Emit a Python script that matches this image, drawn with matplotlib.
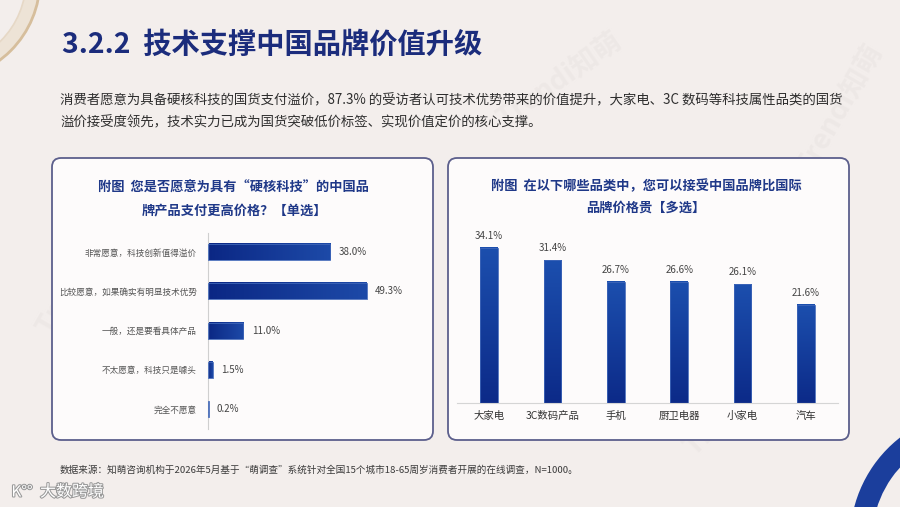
import matplotlib
matplotlib.use('Agg')
import matplotlib.pyplot as plt
import numpy as np
from matplotlib.patches import FancyBboxPatch, Wedge, Arc
from matplotlib.colors import LinearSegmentedColormap
import matplotlib.patheffects as pe

plt.rcParams['font.family'] = ['Noto Sans CJK SC', 'DejaVu Sans']

# ---------------- data ----------------
page_title = '3.2.2  技术支撑中国品牌价值升级'
para_lines = ['消费者愿意为具备硬核科技的国货支付溢价，87.3% 的受访者认可技术优势带来的价值提升，大家电、3C 数码等科技属性品类的国货',
              '溢价接受度领先，技术实力已成为国货突破低价标签、实现价值定价的核心支撑。']
q1_title = '附图  您是否愿意为具有“硬核科技”的中国品\n牌产品支付更高价格？【单选】'
q1_labels = ['非常愿意，科技创新值得溢价', '比较愿意，如果确实有明显技术优势', '一般，还是要看具体产品',
             '不太愿意，科技只是噱头', '完全不愿意']
q1_values = [38.0, 49.3, 11.0, 1.5, 0.2]
q2_title = '附图  在以下哪些品类中，您可以接受中国品牌比国际\n品牌价格贵【多选】'
q2_labels = ['大家电', '3C数码产品', '手机', '厨卫电器', '小家电', '汽车']
q2_values = [34.1, 31.4, 26.7, 26.6, 26.1, 21.6]
source = '数据来源：知萌咨询机构于2026年5月基于“萌调查”系统针对全国15个城市18-65周岁消费者开展的在线调查，N=1000。'
logo = '大数跨境'

W, H = 900, 507
fig = plt.figure(figsize=(9, 5.07), dpi=100)
fig.patch.set_facecolor('#F3EEEC')
bg = fig.add_axes([0, 0, 1, 1])
bg.set_xlim(0, W); bg.set_ylim(H, 0); bg.axis('off')

def fx(x): return x / W
def fy(y): return 1 - y / H

# decorations
bg.add_patch(Wedge((-60, -20), 100, 0, 90, width=14, facecolor='#EDE3D6', edgecolor='none'))
bg.add_patch(Arc((-60, -20), 200, 200, theta1=0, theta2=90, color='#D6BE9C', lw=2.0))
bg.add_patch(Arc((-60, -20), 172, 172, theta1=0, theta2=90, color='#E6D8C6', lw=1.2))
bg.add_patch(Wedge((980, 540), 130, 140, 240, width=22, facecolor='#1B3E9C', edgecolor='none'))

# faint watermarks
for (x, y, r) in [(80, 270, 60), (560, 80, 35), (500, 330, 60), (740, 400, 45), (840, 110, 60)]:
    bg.text(x, y, 'Trendi知萌', fontsize=20, color='#E6E0DE', alpha=0.4, rotation=r,
            ha='center', va='center', fontweight='bold', zorder=0.5)

# title and paragraph
bg.text(62, 45, page_title, fontsize=20.3, fontweight='bold', color='#1B2C7C', va='center', ha='left')
bg.text(60, 100, para_lines[0], fontsize=9.65, color='#2E2E2E', va='center', ha='left')
bg.text(60, 122, para_lines[1], fontsize=9.65, color='#2E2E2E', va='center', ha='left')

# panels
for (x0, x1) in [(52, 433), (448, 849)]:
    bg.add_patch(FancyBboxPatch((x0, 158), x1 - x0, 282, boxstyle='round,pad=0,rounding_size=9',
                                facecolor='#FDFBFB', edgecolor='#5C5F8C', lw=1.3, zorder=1))

bg.text(234, 199, q1_title, fontsize=9.5, fontweight='bold', color='#1F3888', ha='center', va='center',
        linespacing=1.85, zorder=3)
bg.text(646, 197, q2_title, fontsize=9.5, fontweight='bold', color='#1F3888', ha='center', va='center',
        linespacing=1.75, zorder=3)

bg.text(60, 470, source, fontsize=6.9, color='#3A3A3A', va='center', ha='left')
bg.text(22, 492, 'K°°', fontsize=11, color='white', va='center', ha='center',
        path_effects=[pe.withStroke(linewidth=1.5, foreground='#9A9A9A')])
bg.text(40, 492, logo, fontsize=11.5, color='white', va='center', ha='left',
        path_effects=[pe.withStroke(linewidth=1.5, foreground='#9A9A9A')])

cmap_h = LinearSegmentedColormap.from_list('h', ['#0B2784', '#1D4AA8'])
cmap_v = LinearSegmentedColormap.from_list('v', ['#0C2A88', '#1C4FAE'])

# ---------------- left chart ----------------
ax1 = fig.add_axes([fx(208), fy(428.6), 177 / W, 196 / H])
ax1.patch.set_alpha(0)
ypos = np.arange(len(q1_values))
bars = ax1.barh(ypos, q1_values, height=0.41, color='none', edgecolor='#3F66B8', lw=0.6, zorder=3)
grad_h = np.linspace(0, 1, 256).reshape(1, -1)
for b in bars:
    x0, y0, w, h = b.get_x(), b.get_y(), b.get_width(), b.get_height()
    ax1.imshow(grad_h, extent=[x0, x0 + w, y0 + h, y0], cmap=cmap_h, aspect='auto', zorder=2)
ax1.set_xlim(0, 55)
ax1.set_ylim(4.5, -0.5)
for y, v in zip(ypos, q1_values):
    ax1.annotate(f'{v:.1f}%', (v, y), xytext=(6, 0), textcoords='offset points', fontsize=7,
                 color='#444444', va='center', ha='left')
ax1.set_yticks(ypos)
ax1.set_yticklabels(q1_labels, fontsize=6.2, color='#555555')
ax1.tick_params(axis='y', length=0, pad=8)
ax1.set_xticks([])
for s in ['top', 'right', 'bottom']:
    ax1.spines[s].set_visible(False)
ax1.spines['left'].set_color('#CFCFCF')
ax1.spines['left'].set_linewidth(0.8)

# ---------------- right chart ----------------
ax2 = fig.add_axes([fx(457.3), fy(403), 380.4 / W, 182 / H])
ax2.patch.set_alpha(0)
xpos = np.arange(len(q2_values))
bars2 = ax2.bar(xpos, q2_values, width=0.28, color='none', edgecolor='#3F66B8', lw=0.6, zorder=3)
grad_v = np.linspace(0, 1, 256).reshape(-1, 1)
for b in bars2:
    x0, y0, w, h = b.get_x(), b.get_y(), b.get_width(), b.get_height()
    ax2.imshow(grad_v, extent=[x0, x0 + w, y0, y0 + h], origin='lower', cmap=cmap_v, aspect='auto', zorder=2)
ax2.set_xlim(-0.5, 5.5)
ax2.set_ylim(0, 40)
for x, v in zip(xpos, q2_values):
    ax2.annotate(f'{v:.1f}%', (x, v), xytext=(0, 5), textcoords='offset points', fontsize=7,
                 color='#444444', va='bottom', ha='center')
ax2.set_xticks(xpos)
ax2.set_xticklabels(q2_labels, fontsize=7.5, color='#333333')
ax2.tick_params(axis='x', length=0, pad=6)
ax2.set_yticks([])
for s in ['top', 'right', 'left']:
    ax2.spines[s].set_visible(False)
ax2.spines['bottom'].set_color('#D5D5D5')
ax2.spines['bottom'].set_linewidth(0.8)

fig.savefig('out.png', dpi=100, facecolor=fig.get_facecolor())
